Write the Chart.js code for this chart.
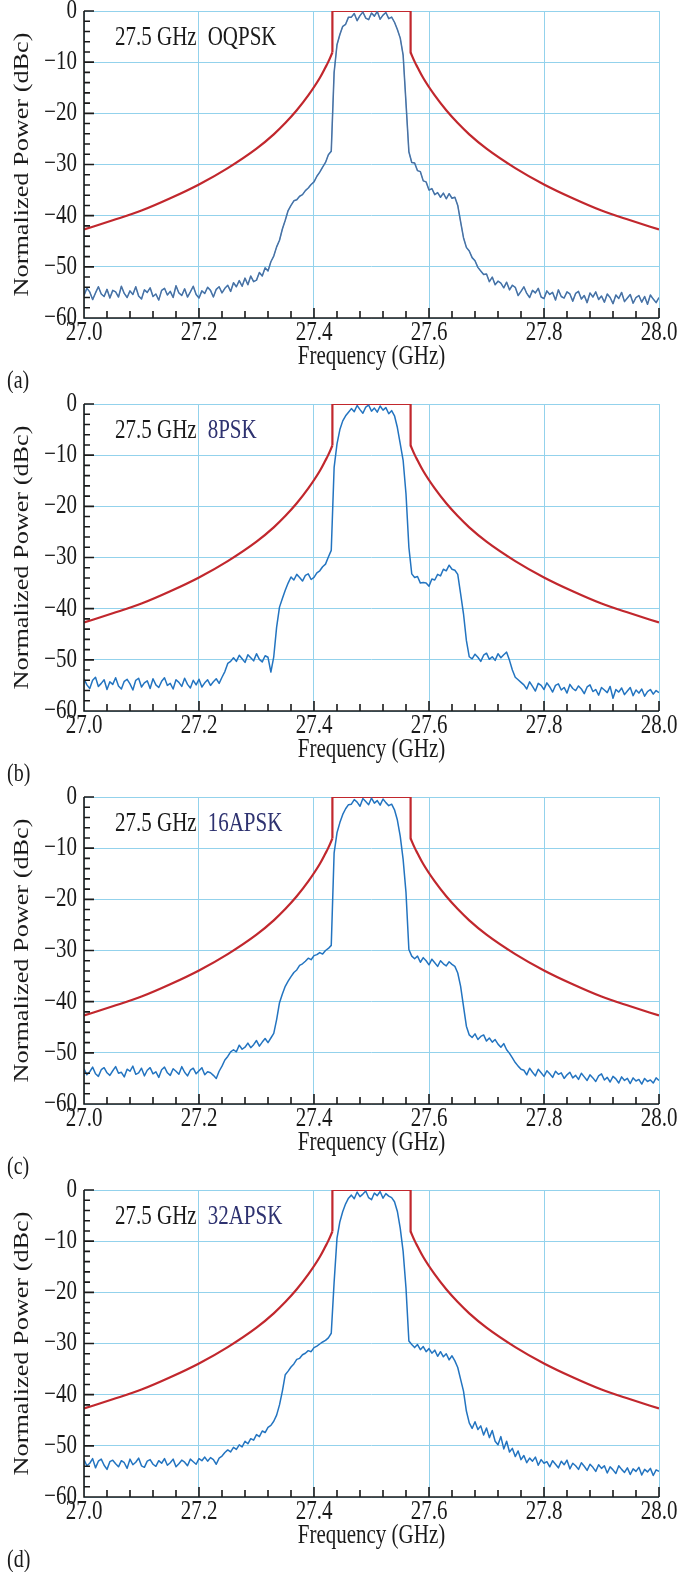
<!DOCTYPE html>
<html lang="en">
<head>
<meta charset="UTF-8">
<title>27.5 GHz spectra</title>
<script src="https://cdn.jsdelivr.net/npm/chart.js@4.4.1/dist/chart.umd.min.js"></script>
<style>
  body { margin: 0; background: #fff; }
  .panel { width: 689px; height: 393px; }
  canvas { display: block; }
</style>
</head>
<body>
<div class="panel"><canvas id="chartA" width="689" height="393"></canvas></div>
<div class="panel"><canvas id="chartB" width="689" height="393"></canvas></div>
<div class="panel"><canvas id="chartC" width="689" height="393"></canvas></div>
<div class="panel"><canvas id="chartD" width="689" height="393"></canvas></div>
<script>
    // sample frequencies (GHz), shared by all four traces
    const freqs = [
        27.000, 27.005, 27.010, 27.015, 27.020, 27.025, 27.030, 27.035, 27.040, 27.045,
        27.050, 27.055, 27.060, 27.065, 27.070, 27.075, 27.080, 27.085, 27.090, 27.095,
        27.100, 27.105, 27.110, 27.115, 27.120, 27.125, 27.130, 27.135, 27.140, 27.145,
        27.150, 27.155, 27.160, 27.165, 27.170, 27.175, 27.180, 27.185, 27.190, 27.195,
        27.200, 27.205, 27.210, 27.215, 27.220, 27.225, 27.230, 27.235, 27.240, 27.245,
        27.250, 27.255, 27.260, 27.265, 27.270, 27.275, 27.280, 27.285, 27.290, 27.295,
        27.300, 27.305, 27.310, 27.315, 27.320, 27.325, 27.330, 27.335, 27.340, 27.345,
        27.350, 27.355, 27.360, 27.365, 27.370, 27.375, 27.380, 27.385, 27.390, 27.395,
        27.400, 27.405, 27.410, 27.415, 27.420, 27.425, 27.430, 27.435, 27.440, 27.445,
        27.450, 27.455, 27.460, 27.465, 27.470, 27.475, 27.480, 27.485, 27.490, 27.495,
        27.500, 27.505, 27.510, 27.515, 27.520, 27.525, 27.530, 27.535, 27.540, 27.545,
        27.550, 27.555, 27.560, 27.565, 27.570, 27.575, 27.580, 27.585, 27.590, 27.595,
        27.600, 27.605, 27.610, 27.615, 27.620, 27.625, 27.630, 27.635, 27.640, 27.645,
        27.650, 27.655, 27.660, 27.665, 27.670, 27.675, 27.680, 27.685, 27.690, 27.695,
        27.700, 27.705, 27.710, 27.715, 27.720, 27.725, 27.730, 27.735, 27.740, 27.745,
        27.750, 27.755, 27.760, 27.765, 27.770, 27.775, 27.780, 27.785, 27.790, 27.795,
        27.800, 27.805, 27.810, 27.815, 27.820, 27.825, 27.830, 27.835, 27.840, 27.845,
        27.850, 27.855, 27.860, 27.865, 27.870, 27.875, 27.880, 27.885, 27.890, 27.895,
        27.900, 27.905, 27.910, 27.915, 27.920, 27.925, 27.930, 27.935, 27.940, 27.945,
        27.950, 27.955, 27.960, 27.965, 27.970, 27.975, 27.980, 27.985, 27.990, 27.995,
        28.000
    ];

    // (a) OQPSK, dBc
    const oqpsk = [
        -55.6, -54.2, -54.9, -56.4, -55.1, -53.9, -55.3, -55.8, -54.4, -56.1,
        -54.6, -54.9, -55.9, -53.8, -55.2, -56.0, -54.7, -55.4, -53.9, -55.7,
        -56.3, -54.5, -55.0, -54.1, -55.8, -55.3, -56.5, -54.6, -54.2, -55.5,
        -54.8, -56.0, -53.7, -55.1, -55.6, -54.3, -55.9, -54.9, -53.8, -55.4,
        -56.1, -54.7, -55.2, -54.0, -54.6, -55.9, -54.4, -53.9, -55.1, -54.2,
        -53.6, -54.8, -53.1, -53.9, -52.7, -53.8, -52.2, -53.5, -51.8, -52.9,
        -52.6, -51.1, -51.8, -50.2, -50.8, -49.0, -47.9, -46.1, -44.8, -42.6,
        -40.9, -39.0, -38.0, -37.1, -36.9, -36.2, -35.9, -35.1, -34.6, -33.9,
        -33.4, -32.3, -31.5, -30.5, -29.6, -28.1, -27.4, -12.0, -6.6, -4.6,
        -3.0, -2.6, -1.2, -1.2, -0.5, -1.9, -0.9, -0.2, -1.4, -1.7,
        -0.4, -1.0, -0.1, -1.6, -0.8, -0.3, -1.5, -1.2, -2.2, -3.6,
        -5.3, -8.6, -18.0, -27.5, -29.6, -29.7, -31.2, -31.4, -33.2, -33.4,
        -35.0, -34.7, -35.9, -35.5, -36.4, -35.6, -36.7, -35.7, -36.6, -36.4,
        -38.0, -41.2, -44.3, -46.2, -46.9, -48.2, -48.8, -50.1, -50.8, -51.5,
        -51.4, -52.9, -52.0, -53.5, -52.8, -53.2, -54.1, -53.0, -54.5, -53.6,
        -54.0, -55.6, -54.8, -53.9, -55.2, -56.0, -54.6, -55.1, -54.2, -55.9,
        -56.2, -54.7, -55.4, -55.0, -56.5, -54.5, -55.8, -56.1, -54.9, -55.3,
        -56.7, -55.2, -54.8, -56.3, -55.6, -57.0, -55.1, -55.9, -54.9, -56.4,
        -55.7, -56.9, -55.3, -56.0, -57.2, -55.5, -56.2, -55.0, -56.8, -56.1,
        -55.4, -57.1, -56.0, -55.6, -56.9, -55.8, -57.3, -55.5, -56.3, -57.0,
        -56.0
    ];

    // (b) 8PSK
    const psk8 = [
        -53.7, -54.9, -55.6, -54.0, -53.4, -55.2, -54.6, -53.9, -55.8, -54.3,
        -54.8, -53.5, -55.1, -55.7, -54.2, -53.8, -54.7, -55.9, -54.0, -53.6,
        -55.3, -54.5, -54.1, -55.6, -53.7, -54.9, -55.4, -54.2, -53.5, -55.0,
        -54.6, -55.7, -53.9, -54.4, -55.2, -53.6, -54.8, -55.5, -54.0, -54.9,
        -53.8, -55.3, -54.5, -53.9, -55.0, -54.3, -53.7, -54.6,
        -53.4, -52.3, -50.7, -50.3, -49.6,
        -50.3, -49.1, -49.8, -50.5, -49.0, -49.6, -50.2, -48.8, -49.9, -50.4, -49.2, -49.5,
        -52.4, -49.4, -43.6, -39.7, -38.0, -36.4, -35.0, -33.8,
        -34.4, -33.3, -33.9, -34.6, -33.5, -33.2, -34.3, -33.9,
        -33.0, -32.6, -31.8, -31.3, -29.9, -28.6,
        -12.4, -7.8, -5.0, -3.3, -2.3, -1.6,
        -0.9, -1.5, -0.3, -1.1, -1.8, -0.6, -0.2, -1.4, -0.8, -1.6, -0.4, -1.2, -0.7, -1.9, -1.3,
        -2.3, -4.6, -7.8, -11.0, -17.6, -28.0, -33.2,
        -33.9, -33.7, -35.0, -34.9, -35.0, -35.6, -34.2, -34.4, -33.3, -33.6,
        -32.3, -32.6, -31.5, -32.3, -32.5, -33.3, -37.1, -41.0, -46.2, -49.4,
        -49.8, -48.9, -49.5, -50.3, -49.1, -48.7, -49.9, -49.4, -50.1, -48.8, -49.6, -49.0, -48.5,
        -50.1, -52.0, -53.4, -53.9, -54.4,
        -54.9, -55.7, -54.3, -55.2, -56.1, -54.6, -55.0, -55.8, -54.5, -55.3,
        -56.3, -55.0, -54.7, -55.9, -55.4, -56.5, -54.8, -55.6, -56.0, -55.1,
        -55.7, -56.6, -55.3, -54.9, -56.2, -55.8, -56.9, -55.4, -55.9, -56.4,
        -55.2, -57.5, -55.8, -56.3, -55.5, -56.8, -56.1, -55.4, -57.0, -55.9,
        -56.5, -55.7, -57.1, -56.2, -55.8, -56.7, -56.0, -56.4
    ];

    // (c) 16APSK
    const apsk16 = [
        -53.1, -54.3, -53.7, -52.8, -54.1, -54.6, -53.3, -52.9, -53.9, -54.4,
        -53.5, -52.7, -54.0, -53.8, -54.7, -53.2, -53.6, -52.6, -54.2, -53.9,
        -53.0, -54.5, -53.4, -52.9, -54.1, -53.7, -54.8, -53.3, -52.8, -53.9,
        -54.4, -53.1, -53.6, -54.2, -52.7, -53.8, -54.5, -53.4, -53.0, -54.1,
        -53.5, -52.9, -54.3, -53.7,
        -53.9, -54.4, -55.0, -53.6, -52.6, -51.4, -50.7, -49.8, -49.4,
        -49.8, -48.5, -49.3, -48.9, -48.1, -49.0, -48.4, -47.6, -48.7, -47.9, -47.2, -48.0, -47.1, -46.2,
        -43.5, -40.2, -38.5, -37.0, -36.0, -35.1, -34.3, -33.8, -32.9, -32.6,
        -32.1, -31.5, -31.8, -31.0, -30.8, -30.4, -30.7, -30.0, -29.6, -29.0,
        -10.9, -7.0, -5.0, -3.4, -2.3, -1.5,
        -1.4, -0.5, -1.0, -1.8, -0.3, -0.9, -1.5, -0.2, -1.2, -0.7, -1.6, -0.4, -1.1, -1.7, -1.4,
        -2.5, -4.5, -7.7, -12.2, -18.7, -29.8, -31.1,
        -31.6, -31.1, -32.3, -31.4, -32.0, -32.8, -31.7, -32.4, -33.1, -32.0, -32.6, -33.0, -32.2, -32.7, -33.1, -34.4,
        -37.0, -40.9, -44.8, -46.5,
        -47.0, -46.3, -47.4, -46.8, -46.5, -47.7, -47.1, -47.9, -47.4, -48.3, -48.9, -48.2, -49.4, -50.1, -51.0, -51.9, -52.6, -53.2,
        -53.4, -54.3, -53.0, -53.8, -54.5, -53.2, -53.9, -54.6, -53.5, -54.1,
        -54.8, -53.6, -54.2, -53.9, -55.0, -54.3, -53.8, -54.9, -54.4, -55.2,
        -54.0, -54.7, -55.4, -54.3, -54.9, -55.6, -54.5, -54.1, -55.3, -54.8,
        -55.7, -54.6, -55.1, -55.9, -54.7, -55.4, -55.0, -56.0, -54.9, -55.5,
        -55.2, -56.1, -55.0, -55.6, -55.3, -55.9, -54.9, -55.4
    ];

    // (d) 32APSK
    const apsk32 = [
        -52.7, -53.9, -53.4, -52.5, -54.3, -53.0, -52.6, -53.8, -54.6, -53.1,
        -52.8, -53.5, -54.1, -52.9, -53.3, -54.4, -52.6, -53.7, -53.2, -52.4,
        -53.9, -54.2, -53.0, -52.7, -53.6, -54.0, -52.9, -53.4, -52.5, -53.8,
        -53.3, -52.6, -54.1, -53.5, -52.8, -53.2, -53.9, -52.6, -53.1, -53.6,
        -52.5, -52.9, -52.2, -53.0, -52.3, -52.7, -53.6, -52.4,
        -52.0, -51.3, -50.8, -51.2, -50.3, -50.7, -49.8, -50.2, -49.1, -49.6,
        -48.6, -48.9, -47.8, -48.2, -47.1, -47.4, -46.4, -46.0, -45.2,
        -44.0, -42.0, -39.3, -36.1, -35.4, -34.6, -34.0, -33.1, -32.9, -32.2,
        -31.9, -31.4, -31.6, -30.8, -30.5, -30.1, -29.7, -29.4, -28.9, -28.0,
        -18.0, -9.4, -6.2, -4.2, -2.7, -1.6,
        -1.0, -1.7, -0.4, -1.3, -0.8, -0.2, -1.5, -1.9, -0.6, -1.1, -0.3, -1.6, -0.7, -1.2, -1.5,
        -2.3, -4.2, -7.5, -12.0, -19.2, -29.5, -30.2,
        -30.8, -30.2, -31.2, -30.6, -31.6, -31.0, -31.9, -31.3, -32.5, -31.6, -32.6, -32.0, -33.2, -32.4, -33.4, -34.7,
        -37.0, -39.3, -43.2, -45.5, -46.6, -45.3, -46.8, -46.1, -47.9, -46.5,
        -48.4, -47.0, -49.1, -49.8, -48.2, -50.6, -49.1, -51.2, -50.5, -52.1,
        -51.0, -52.7,
        -51.9, -53.3, -52.4, -53.0, -52.2, -53.8, -52.7, -53.4, -53.1, -54.1,
        -52.9, -53.6, -54.3, -53.0, -53.7, -52.8, -54.5, -53.4, -53.9, -54.6,
        -53.3, -54.0, -54.8, -53.6, -54.2, -55.0, -53.7, -54.4, -53.9, -55.3,
        -54.1, -54.7, -55.4, -53.9, -54.6, -55.2, -54.3, -55.6, -54.5, -55.0,
        -54.2, -55.7, -54.6, -55.1, -54.4, -55.8, -54.7, -55.0
    ];

    // spectral mask (same in all panels)
    const maskLeftF  = [27.0, 27.05, 27.1, 27.15, 27.2, 27.25, 27.3, 27.33, 27.35, 27.37, 27.39, 27.41, 27.42, 27.425, 27.432];
    const maskLeftDb = [-42.7, -40.9, -39.0, -36.6, -33.9, -30.7, -26.9, -24.1, -21.9, -19.4, -16.5, -13.1, -11.0, -9.9, -8.1];
    const maskTopF   = [27.432, 27.432, 27.568, 27.568];
    const maskTopDb  = [-8.1, 0, 0, -8.1];
    const maskRightF  = [27.568, 27.575, 27.58, 27.59, 27.61, 27.63, 27.65, 27.67, 27.7, 27.75, 27.8, 27.85, 27.9, 27.95, 28.0];
    const maskRightDb = [-8.1, -9.9, -11.0, -13.1, -16.5, -19.4, -21.9, -24.1, -26.9, -30.7, -33.9, -36.6, -39.0, -40.9, -42.7];

    const serif = "'Liberation Serif', 'Times New Roman', serif";
    const ink = '#1a1a1a';
    const gridColor = '#93d2ec';
    const maskColor = '#c1272d';
    const traceColor = '#2374c0';
    const stretch = 1.25;   // the printed figure's lettering is tall and narrow

    function xy(fs, vs) {
        return fs.map(function (f, i) { return {x: f, y: vs[i]}; });
    }

    function tallText(ctx, text, x, y, align, angle) {
        ctx.save();
        ctx.translate(x, y);
        if (angle) {
            ctx.rotate(angle);
            ctx.scale(stretch, 1);
        } else {
            ctx.scale(1, stretch);
        }
        ctx.textAlign = align;
        ctx.fillText(text, 0, 0);
        ctx.restore();
    }

    // axis lines, inward ticks and all lettering
    const decor = {
        id: 'decor',
        afterDraw: function (chart, args, o) {
            const ctx = chart.ctx, a = chart.chartArea, x = chart.scales.x, y = chart.scales.y;
            ctx.save();
            ctx.strokeStyle = ink;
            ctx.lineWidth = 1.6;
            ctx.beginPath();
            ctx.moveTo(a.left, a.top);
            ctx.lineTo(a.left, a.bottom);
            ctx.lineTo(a.right, a.bottom);
            for (let k = 0; k <= 30; k++) {
                const py = y.getPixelForValue(-60 + 2 * k);
                ctx.moveTo(a.left, py);
                ctx.lineTo(a.left + (k % 5 === 0 ? 10 : 6), py);
            }
            for (let k = 0; k <= 25; k++) {
                const px = x.getPixelForValue(27 + 0.04 * k);
                ctx.moveTo(px, a.bottom);
                ctx.lineTo(px, a.bottom - (k % 5 === 0 ? 10 : 7));
            }
            ctx.stroke();

            ctx.textBaseline = 'middle';
            ctx.fillStyle = ink;
            ctx.font = '21px ' + serif;
            x.ticks.forEach(function (t) {
                tallText(ctx, t.value.toFixed(1), x.getPixelForValue(t.value), a.bottom + 15, 'center');
            });
            y.ticks.forEach(function (t) {
                const lbl = t.value === 0 ? '0' : '\u2212' + Math.abs(t.value);
                tallText(ctx, lbl, a.left - 7, y.getPixelForValue(t.value), 'right');
            });
            tallText(ctx, 'Frequency (GHz)', (a.left + a.right) / 2, a.bottom + 39, 'center');
            tallText(ctx, 'Normalized Power (dBc)', 22, (a.top + a.bottom) / 2, 'center', -Math.PI / 2);

            const tx = a.left + 31, ty = a.top + 27;
            tallText(ctx, '27.5 GHz', tx, ty, 'left');
            const w = ctx.measureText('27.5 GHz').width;
            ctx.fillStyle = o.modColor;
            tallText(ctx, o.mod, tx + w + 11, ty, 'left');

            ctx.fillStyle = ink;
            ctx.font = '20px ' + serif;
            tallText(ctx, o.letter, 7, 381, 'left');
            ctx.restore();
        }
    };

    function makeChart(id, values, mod, modColor, letter, shadow) {
        const pts = xy(freqs, values);
        const datasets = [
            {data: pts, borderColor: traceColor, borderWidth: 1.5, order: 1},
            {data: xy(maskLeftF, maskLeftDb), borderColor: maskColor, borderWidth: 2.2, cubicInterpolationMode: 'monotone', order: 2},
            {data: xy(maskTopF, maskTopDb), borderColor: maskColor, borderWidth: 2.2, order: 2},
            {data: xy(maskRightF, maskRightDb), borderColor: maskColor, borderWidth: 2.2, cubicInterpolationMode: 'monotone', order: 2}
        ];
        if (shadow) {
            datasets.push({data: pts, borderColor: 'rgba(150,105,100,0.75)', borderWidth: 0.6, order: 0});
        }
        new Chart(document.getElementById(id), {
            type: 'line',
            data: {datasets: datasets},
            options: {
                responsive: false,
                animation: false,
                events: [],
                layout: {padding: {top: 11, right: 30, left: 0, bottom: 0}},
                elements: {point: {radius: 0}, line: {tension: 0, borderJoinStyle: 'round'}},
                plugins: {
                    legend: {display: false},
                    tooltip: {enabled: false},
                    decor: {mod: mod, modColor: modColor, letter: letter}
                },
                scales: {
                    x: {
                        type: 'linear', min: 27, max: 28,
                        afterFit: function (s) { s.height = 75; },
                        grid: {color: gridColor, lineWidth: 1, drawTicks: false},
                        border: {display: false},
                        ticks: {stepSize: 0.2, display: false}
                    },
                    y: {
                        min: -60, max: 0,
                        afterFit: function (s) { s.width = 84; },
                        grid: {color: gridColor, lineWidth: 1, drawTicks: false},
                        border: {display: false},
                        ticks: {stepSize: 10, display: false}
                    }
                }
            },
            plugins: [decor]
        });
    }

    makeChart('chartA', oqpsk, 'OQPSK', ink, '(a)', true);
    makeChart('chartB', psk8, '8PSK', '#2e3270', '(b)', false);
    makeChart('chartC', apsk16, '16APSK', '#2e3270', '(c)', false);
    makeChart('chartD', apsk32, '32APSK', '#2e3270', '(d)', false);
</script>
</body>
</html>
